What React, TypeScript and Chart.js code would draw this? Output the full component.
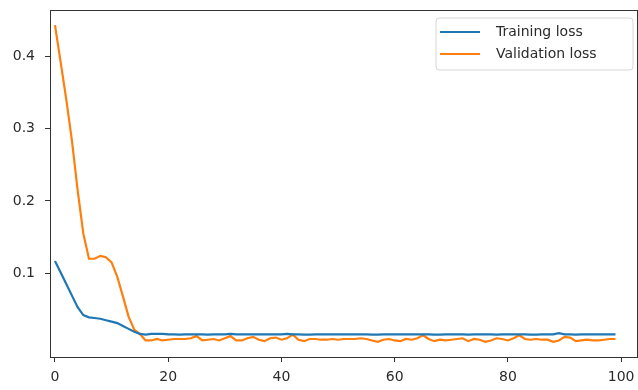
import React, { useEffect, useRef } from "react";
import { Chart, registerables } from "chart.js";

Chart.register(...registerables);

const epochs: number[] = Array.from({ length: 100 }, (_, i) => i);

const trainingLoss: number[] = [
  0.117, 0.101, 0.085, 0.069, 0.053, 0.042, 0.039, 0.038, 0.037, 0.035,
  0.033, 0.031, 0.027, 0.023, 0.019, 0.016, 0.015, 0.016, 0.016, 0.016,
  0.0155, 0.0155, 0.015, 0.0155, 0.0155, 0.0155, 0.0155, 0.015, 0.0155, 0.0155,
  0.0155, 0.016, 0.0155, 0.0155, 0.0155, 0.0155, 0.0155, 0.0155, 0.0155, 0.0155,
  0.0155, 0.016, 0.0155, 0.0155, 0.015, 0.015, 0.0155, 0.0155, 0.0155, 0.0155,
  0.0155, 0.0155, 0.0155, 0.0155, 0.0155, 0.0155, 0.015, 0.015, 0.0155, 0.0155,
  0.0155, 0.0155, 0.0155, 0.0155, 0.0155, 0.0155, 0.0155, 0.015, 0.015, 0.0155,
  0.0155, 0.0155, 0.0155, 0.015, 0.0155, 0.0155, 0.0155, 0.0155, 0.015, 0.0155,
  0.0155, 0.0155, 0.0155, 0.0155, 0.015, 0.015, 0.0155, 0.0155, 0.0155, 0.017,
  0.0155, 0.0155, 0.015, 0.0155, 0.0155, 0.0155, 0.0155, 0.0155, 0.0155, 0.0155,
];

const validationLoss: number[] = [
  0.443, 0.392, 0.34, 0.283, 0.215, 0.155, 0.12, 0.12, 0.124, 0.122,
  0.115, 0.095, 0.068, 0.04, 0.022, 0.016, 0.007, 0.007, 0.009, 0.007,
  0.008, 0.009, 0.009, 0.009, 0.01, 0.013, 0.007, 0.008, 0.009, 0.007,
  0.01, 0.013, 0.007, 0.007, 0.01, 0.012, 0.008, 0.006, 0.01, 0.011,
  0.008, 0.01, 0.015, 0.008, 0.006, 0.009, 0.009, 0.008, 0.008, 0.009,
  0.008, 0.009, 0.009, 0.009, 0.01, 0.009, 0.007, 0.005, 0.008, 0.009,
  0.007, 0.006, 0.009, 0.008, 0.01, 0.014, 0.009, 0.006, 0.008, 0.007,
  0.008, 0.009, 0.01, 0.006, 0.009, 0.008, 0.005, 0.007, 0.01, 0.009,
  0.007, 0.01, 0.014, 0.009, 0.008, 0.009, 0.008, 0.008, 0.005, 0.007,
  0.012, 0.011, 0.006, 0.007, 0.008, 0.007, 0.007, 0.008, 0.009, 0.009,
];

const seriesLabels: string[] = ["Training loss", "Validation loss"];
const seriesColors: string[] = ["#1f77b4", "#ff7f0e"];
const xTicks: number[] = [0, 20, 40, 60, 80, 100];
const yTicks: number[] = [0.1, 0.2, 0.3, 0.4];

const FONT = "DejaVu Sans";
const TEXT = "#2b2b2b";

const framePlugin = {
  id: "frame",
  afterDatasetsDraw(chart: any) {
    const { ctx, chartArea } = chart;
    ctx.save();
    ctx.strokeStyle = "#333333";
    ctx.lineWidth = 1;
    ctx.strokeRect(
      Math.round(chartArea.left) + 0.5,
      Math.round(chartArea.top) + 0.5,
      Math.round(chartArea.right - chartArea.left),
      Math.round(chartArea.bottom - chartArea.top)
    );
    ctx.restore();
  },
};

const legendPlugin = {
  id: "mplLegend",
  afterDraw(chart: any) {
    const { ctx, chartArea } = chart;
    const boxRight = chartArea.right - 4;
    const boxW = 197;
    const boxLeft = boxRight - boxW;
    const boxTop = chartArea.top + 8;
    const boxH = 52;
    ctx.save();
    ctx.beginPath();
    const r = 3;
    ctx.moveTo(boxLeft + r, boxTop);
    ctx.arcTo(boxLeft + boxW, boxTop, boxLeft + boxW, boxTop + boxH, r);
    ctx.arcTo(boxLeft + boxW, boxTop + boxH, boxLeft, boxTop + boxH, r);
    ctx.arcTo(boxLeft, boxTop + boxH, boxLeft, boxTop, r);
    ctx.arcTo(boxLeft, boxTop, boxLeft + boxW, boxTop, r);
    ctx.closePath();
    ctx.fillStyle = "rgba(255,255,255,0.85)";
    ctx.fill();
    ctx.strokeStyle = "#d6d6d6";
    ctx.lineWidth = 1;
    ctx.stroke();
    ctx.font = `14px "${FONT}"`;
    ctx.textBaseline = "middle";
    ctx.textAlign = "left";
    chart.data.datasets.forEach((ds: any, i: number) => {
      const y = boxTop + 14 + i * 22;
      ctx.strokeStyle = ds.borderColor;
      ctx.lineWidth = 2.2;
      ctx.beginPath();
      ctx.moveTo(boxLeft + 4, y);
      ctx.lineTo(boxLeft + 44, y);
      ctx.stroke();
      ctx.fillStyle = TEXT;
      ctx.fillText(ds.label, boxLeft + 60, y);
    });
    ctx.restore();
  },
};

export default function App() {
  const ref = useRef<HTMLCanvasElement>(null);

  useEffect(() => {
    if (!ref.current) return;
    const chart = new Chart(ref.current, {
      type: "line",
      data: {
        datasets: [trainingLoss, validationLoss].map((vals, i) => ({
          label: seriesLabels[i],
          data: epochs.map((e, j) => ({ x: e, y: vals[j] })),
          borderColor: seriesColors[i],
          backgroundColor: seriesColors[i],
          borderWidth: 2.2,
          pointRadius: 0,
          tension: 0,
          fill: false,
        })),
      },
      options: {
        responsive: false,
        animation: false,
        devicePixelRatio: 1,
        layout: { padding: { left: 0, top: 10, right: 1, bottom: 0 } },
        plugins: {
          legend: { display: false },
          tooltip: { enabled: false },
        },
        scales: {
          x: {
            type: "linear",
            min: -0.88,
            max: 102.8,
            afterBuildTicks: (scale: any) => {
              scale.ticks = xTicks.map((v) => ({ value: v }));
            },
            afterFit: (scale: any) => {
              scale.height = 33;
              scale.paddingLeft = 0;
              scale.paddingRight = 0;
            },
            border: { display: false },
            grid: {
              display: true,
              drawOnChartArea: false,
              drawTicks: true,
              tickLength: 5,
              color: "#333333",
            },
            ticks: {
              color: TEXT,
              font: { family: FONT, size: 14 },
              padding: 7,
              maxRotation: 0,
              callback: (v: any) => String(v),
            },
          },
          y: {
            type: "linear",
            min: -0.0159,
            max: 0.464,
            afterBuildTicks: (scale: any) => {
              scale.ticks = yTicks.map((v) => ({ value: v }));
            },
            afterFit: (scale: any) => {
              scale.width = 50;
              scale.paddingTop = 0;
              scale.paddingBottom = 0;
            },
            border: { display: false },
            grid: {
              display: true,
              drawOnChartArea: false,
              drawTicks: true,
              tickLength: 5,
              color: "#333333",
            },
            ticks: {
              color: TEXT,
              font: { family: FONT, size: 14 },
              padding: 10,
              callback: (v: any) => Number(v).toFixed(1),
            },
          },
        },
      },
      plugins: [framePlugin, legendPlugin],
    });
    return () => chart.destroy();
  }, []);

  return (
    <div style={{ position: "absolute", left: 0, top: 0, width: 638, height: 390, background: "#fff" }}>
      <canvas ref={ref} width={638} height={390} style={{ width: 638, height: 390 }} />
    </div>
  );
}
